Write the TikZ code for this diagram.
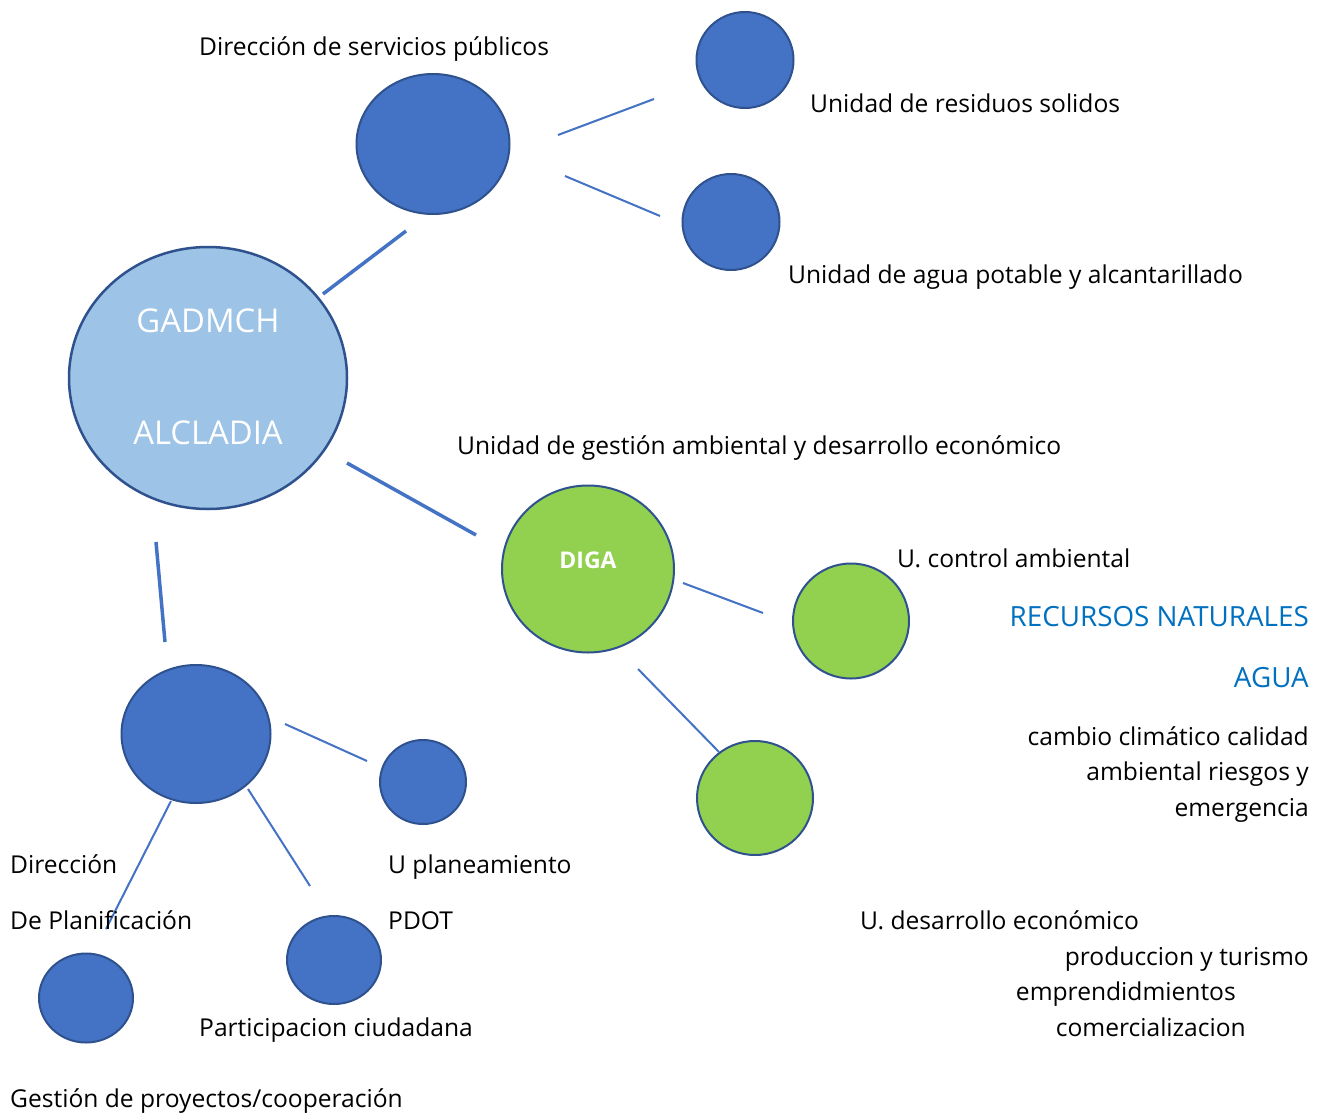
\documentclass[tikz,border=0pt]{standalone}
\usepackage{fontspec}
\setmainfont{Open Sans}
\usetikzlibrary{shapes.geometric}
\definecolor{bfill}{HTML}{4472C4}
\definecolor{bline}{HTML}{2F528F}
\definecolor{lfill}{HTML}{9DC3E6}
\definecolor{gfill}{HTML}{92D050}
\definecolor{tblue}{HTML}{0070C0}
\begin{document}
\begin{tikzpicture}[x=1pt,y=-1pt,
  bub/.style={ellipse,draw=bline,line width=2pt,inner sep=0pt},
  bluebub/.style={bub,fill=bfill},
  greenbub/.style={bub,fill=gfill},
  lbl/.style={inner sep=0pt,anchor=base west,font=\fontsize{24.6}{28}\selectfont},
  rlbl/.style={lbl,anchor=base east},
  bigblue/.style={rlbl,text=tblue,font=\fontsize{27.8}{32}\selectfont},
  conn/.style={draw=bfill,line width=2pt},
  thick conn/.style={draw=bfill,line width=3.5pt}]
\useasboundingbox (0,0) rectangle (1325,1113);
\fill[white] (0,0) rectangle (1325,1113);

% bubbles
\node[bub,fill=lfill,line width=2.5pt,minimum width=278pt,minimum height=262pt] (gad) at (208,378) {};
\node[text=white,font=\fontsize{32.8}{38}\selectfont,inner sep=0pt] (gadt1) at (208,321) {GADMCH};
\node[text=white,font=\fontsize{32.8}{38}\selectfont,inner sep=0pt] (gadt2) at (208,433) {ALCLADIA};
\node[bluebub,minimum width=153pt,minimum height=140pt] (serv) at (433,144) {};
\node[bluebub,minimum width=97pt,minimum height=96pt] (resid) at (745,60) {};
\node[bluebub,minimum width=97pt,minimum height=96pt] (aguap) at (731,222) {};
\node[greenbub,minimum width=172pt,minimum height=167pt] (diga) at (588,569) {};
\node[text=white,font=\bfseries\fontsize{23}{27}\selectfont,inner sep=0pt] (digat) at (588,560) {DIGA};
\node[greenbub,minimum width=116pt,minimum height=115pt] (ctrl) at (851,621) {};
\node[greenbub,minimum width=116pt,minimum height=114pt] (desa) at (755,798) {};
\node[bluebub,minimum width=149pt,minimum height=138pt] (plan) at (196,734) {};
\node[bluebub,minimum width=86pt,minimum height=84pt] (uplan) at (423,782) {};
\node[bluebub,minimum width=94pt,minimum height=88pt] (part) at (334,960) {};
\node[bluebub,minimum width=94pt,minimum height=89pt] (gest) at (86,998) {};

% connector end points
\coordinate (a1) at (323,294); \coordinate (b1) at (406,231);
\coordinate (a2) at (558,135); \coordinate (b2) at (654,99);
\coordinate (a3) at (565,176); \coordinate (b3) at (660,216);
\coordinate (a4) at (347,463); \coordinate (b4) at (476,535);
\coordinate (a5) at (156,542); \coordinate (b5) at (165,642);
\coordinate (a6) at (683,583); \coordinate (b6) at (763,613);
\coordinate (a7) at (638,669); \coordinate (b7) at (719,752);
\coordinate (a8) at (285,724); \coordinate (b8) at (367,761);
\coordinate (a9) at (248,789); \coordinate (b9) at (310,886);
\coordinate (a10) at (171,801); \coordinate (b10) at (106,929);
\path[thick conn] (a1) -- (b1);
\path[conn] (a2) -- (b2);
\path[conn] (a3) -- (b3);
\path[thick conn] (a4) -- (b4);
\path[thick conn] (a5) -- (b5);
\path[conn] (a6) -- (b6);
\path[conn] (a7) -- (b7);
\path[conn] (a8) -- (b8);
\path[conn] (a9) -- (b9);
\path[conn] (a10) -- (b10);

% labels
\node[lbl] (t1) at (199,56) {Dirección de servicios públicos};
\node[lbl] (t2) at (810,113) {Unidad de residuos solidos};
\node[lbl] (t3) at (788,283) {Unidad de agua potable y alcantarillado};
\node[lbl] (t4) at (457,454) {Unidad de gestión ambiental y desarrollo económico};
\node[lbl] (t5) at (897,567) {U. control ambiental};
\node[bigblue] (t6) at (1309,626) {RECURSOS NATURALES};
\node[bigblue] (t7) at (1309,687) {AGUA};
\node[rlbl] (t8) at (1309,745) {cambio climático calidad};
\node[rlbl] (t9) at (1309,780) {ambiental riesgos y};
\node[rlbl] (t10) at (1309,816) {emergencia};
\node[lbl] (t11) at (10,873) {Dirección};
\node[lbl] (t12) at (10,929) {De Planificación};
\node[lbl] (t13) at (388,873) {U planeamiento};
\node[lbl] (t14) at (388,929) {PDOT};
\node[lbl] (t15) at (199,1036) {Participacion ciudadana};
\node[lbl] (t16) at (10,1107) {Gestión de proyectos/cooperación};
\node[lbl] (t17) at (860,929) {U. desarrollo económico};
\node[rlbl] (t18) at (1309,965) {produccion y turismo};
\node[rlbl] (t19) at (1236,1000) {emprendidmientos};
\node[rlbl] (t20) at (1246,1036) {comercializacion};
\end{tikzpicture}
\end{document}
